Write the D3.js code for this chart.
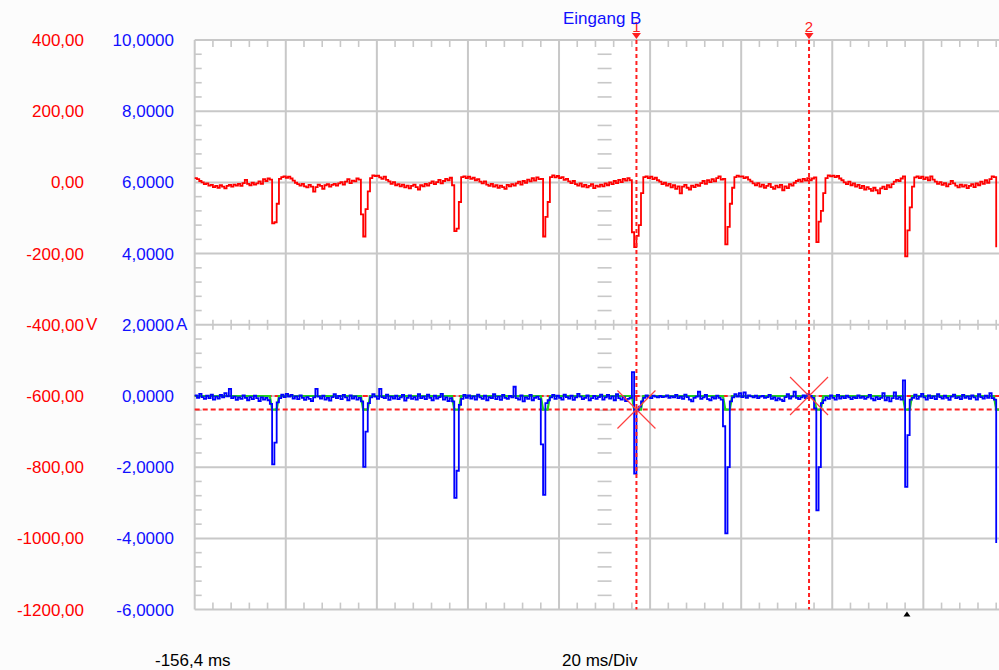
<!DOCTYPE html>
<html>
<head>
<meta charset="utf-8">
<script src="https://cdn.jsdelivr.net/npm/d3@7"></script>
<style>
html, body { margin: 0; padding: 0; background: #fff; overflow: hidden; }
svg { display: block; font-family: "Liberation Sans", Arial, sans-serif; }
</style>
</head>
<body>
<div id="chart"></div>
<script>
// scope settings
const timeStart = -156.4;   // ms at left edge
const msPerDiv = 20;
const divCount = 10;
const sampleStep = 0.5;     // ms between samples

const voltTicks = [400, 200, 0, -200, -400, -600, -800, -1000, -1200];
const ampTicks = [10, 8, 6, 4, 2, 0, -2, -4, -6];
const voltUnitRow = -400;
const ampUnitRow = 2;

const cursorTimes = [-59.4, -21.5];
const cursorNames = ["1", "2"];
const cursorAmps = [0, -0.38];
const crossTimes = [-59.4, -21.5];
const crossAmps = [-0.38, 0];
const triggerTime = 0;
const channelName = "Eingang B";
const startLabel = "-156,4 ms";
const scaleLabel = "20 ms/Div";

// channel A, volts, one sample every 0.5 ms
const voltSamples = [
  12, 9, 4, 0, -5, -3, -9, -7, -13, -10, -15, -8, -12, -17, -10, -7, -12, -6, -9, -4,
  -10, -2, 7, -4, -8, -1, -6, -3, 3, -4, 9, 4, 11, 8, -115, -112, -60, 10, 15, 17,
  13, 16, 11, 5, -1, -5, -9, -4, -11, -14, -7, -12, -26, -13, -6, -10, -18, -8, -5, -12,
  -7, -4, -9, -3, 1, -6, 2, 9, -2, 5, 3, 11, 8, -90, -152, -75, -25, 12, 20, 18,
  19, 14, 10, 16, 7, 3, -4, 1, -8, -5, -11, -6, -14, -9, -17, -10, -6, -13, -20, -8,
  -11, -4, -9, -2, 3, -5, 1, 7, -3, 4, 10, 6, 13, -8, -137, -130, -55, 15, 17, 12,
  16, 10, 13, 6, 9, 2, -3, 3, -6, -10, -4, -12, -8, -15, -9, -13, -18, -7, -11, -5,
  -9, -3, 2, -6, 4, -1, 8, 3, 12, 5, 14, 9, 10, -152, -97, -55, 15, 20, 14, 18,
  12, 15, 7, 10, 3, -2, 4, -5, -9, -3, -12, -7, -14, -10, -5, -16, -9, -12, -6, -11,
  -3, -8, 0, -5, 4, -2, 7, 1, 10, 5, 12, 6, -140, -182, -150, -120, -30, 15, 17, 12,
  16, 9, 13, 6, 2, -5, -1, -9, -4, -14, -8, -18, -11, -31, -12, -7, -15, -20, -9, -13,
  -6, -10, -2, 4, -4, 6, 1, 9, 3, 12, 17, 8, 10, -174, -125, -60, -15, 15, 19, 16,
  17, 12, 15, 8, 3, -3, -8, -2, -12, -6, -15, -10, -4, -13, -18, -9, -14, -7, -22, -11,
  -16, -5, -9, -1, 4, 8, 2, 10, 5, 12, 6, 11, 14, -168, -110, -80, -30, 12, 20, 17,
  19, 15, 18, 11, 6, 0, -5, 2, -8, -3, -12, -7, -16, -10, -20, -13, -18, -24, -15, -22,
  -31, -17, -12, -19, -8, -14, -5, 2, 7, 4, 11, 17, -208, -135, -70, -12, 14, 17, 12, 16,
  9, 14, 6, 17, 8, 2, -4, 1, -7, -2, -11, -5, 4, -3, -9, -14, -6, -12, -8, -16,
  -10, -5, -13, -3, -8, 2, -4, 6, -1, 9, 17, 15, -182
];

// channel B, amps, one sample every 0.5 ms
const ampSamples = [
  0.02, -0.05, 0.06, -0.03, -0.08, 0.01, -0.06, 0.04, -0.10, -0.02, -0.07, 0.03, -0.04, 0.08, -0.01, 0.20, -0.06, -0.02, -0.11, -0.04,
  -0.08, 0.02, -0.05, -0.12, -0.03, -0.09, 0.01, -0.06, -0.14, -0.04, -0.10, -0.05, -0.12, -0.22, -1.92, -1.31, -0.18, -0.06, 0.04, -0.03,
  0.06, -0.02, 0.03, -0.07, -0.01, -0.09, 0.02, -0.05, -0.11, -0.03, -0.08, -0.14, -0.04, 0.20, -0.02, -0.07, 0.01, -0.10, -0.05, -0.13,
  -0.03, 0.05, -0.06, 0.00, -0.09, 0.03, -0.04, -0.12, 0.02, -0.07, -0.01, -0.10, -0.05, -0.15, -1.99, -1.00, -0.20, -0.04, 0.05, -0.02,
  -0.08, 0.20, -0.03, -0.06, 0.04, -0.11, -0.02, -0.07, 0.01, -0.09, -0.04, 0.03, -0.13, -0.05, 0.02, -0.08, -0.03, -0.10, 0.05, -0.06,
  -0.02, -0.09, 0.04, -0.05, -0.12, 0.01, -0.07, -0.03, 0.06, -0.10, -0.04, -0.14, -0.06, -0.15, -2.86, -2.10, -0.25, -0.08, 0.03, -0.05,
  0.02, -0.07, -0.01, -0.10, 0.04, -0.04, -0.08, 0.01, -0.12, -0.03, -0.06, 0.05, -0.09, -0.02, -0.11, 0.03, -0.05, -0.08, 0.00, -0.04,
  0.26, -0.06, -0.10, 0.02, -0.15, -0.04, -0.08, 0.03, -0.12, -0.05, -0.02, -0.09, -1.36, -2.78, -0.20, -0.12, -0.04, 0.03, -0.08, 0.01,
  -0.05, -0.10, 0.04, -0.03, -0.07, 0.01, -0.11, -0.04, 0.06, -0.02, -0.09, -0.05, 0.02, -0.12, -0.06, 0.00, -0.08, -0.03, 0.04, -0.10,
  -0.04, 0.03, -0.07, -0.01, -0.12, 0.05, -0.06, -0.10, -0.03, -0.14, -0.08, -0.05, 0.67, -2.18, -0.40, -0.30, -0.15, -0.05, 0.02, -0.03,
  -0.06, 0.01, -0.02, -0.04, 0.00, -0.03, -0.02, 0.02, -0.05, -0.01, -0.04, 0.03, -0.06, -0.02, -0.08, 0.04, -0.03, -0.10, -0.15, -0.05,
  -0.02, 0.12, -0.08, -0.04, 0.03, -0.09, -0.12, -0.03, -0.07, 0.01, -0.05, -0.10, -0.85, -3.86, -2.00, -0.15, -0.04, 0.05, -0.02, 0.08,
  -0.03, 0.10, -0.05, 0.02, -0.01, -0.04, 0.01, -0.06, -0.02, 0.00, -0.05, -0.03, 0.03, -0.08, -0.04, -0.12, -0.06, -0.10, -0.14, -0.03,
  0.05, -0.07, -0.02, 0.12, -0.05, -0.09, -0.04, 0.02, -0.06, 0.05, 0.00, -0.05, -0.35, -3.21, -2.00, -0.20, -0.12, -0.04, -0.08, 0.02,
  -0.05, -0.10, 0.03, -0.07, -0.02, -0.06, 0.01, -0.04, -0.09, -0.03, -0.06, 0.02, -0.05, -0.02, -0.08, -0.04, 0.03, -0.07, -0.12, -0.03,
  -0.09, -0.05, 0.08, -0.12, -0.04, -0.15, -0.06, 0.10, -0.08, -0.03, -0.10, 0.44, -2.55, -1.10, -0.10, -0.05, 0.04, -0.08, -0.02, 0.06,
  -0.04, -0.10, 0.02, -0.06, -0.01, -0.09, 0.05, -0.03, -0.07, 0.01, -0.05, -0.11, -0.02, 0.04, -0.06, -0.03, -0.09, 0.03, -0.05, -0.01,
  -0.08, 0.02, -0.04, -0.10, 0.05, -0.03, -0.07, 0.01, -0.05, 0.08, -0.06, -0.10, -4.13
];

// reference trace (green), [ms, A]
const refPoints = [
  [-156.4, 0], [-139.9, 0], [-139.4, -0.38], [-138.4, -0.38], [-137.9, 0],
  [-119.9, 0], [-119.4, -0.38], [-118.4, -0.38], [-117.9, 0],
  [-99.9, 0], [-99.4, -0.38], [-98.4, -0.38], [-97.9, 0],
  [-80.4, 0], [-79.9, -0.38], [-78.9, -0.38], [-78.4, 0],
  [-60.4, 0], [-59.9, -0.38], [-58.4, -0.38], [-57.9, 0],
  [-40.4, 0], [-39.9, -0.38], [-38.9, -0.38], [-38.4, 0],
  [-20.4, 0], [-19.9, -0.38], [-18.9, -0.38], [-18.4, 0],
  [-0.9, 0], [-0.4, -0.38], [0.6, -0.38], [1.1, 0],
  [19.1, 0], [19.6, -0.38], [20.4, -0.38]
];

const width = 999, height = 670;
const plotLeft = 194.7, plotTop = 40, divW = 91.08, divH = 71.2;
const plotBottom = plotTop + 8 * divH;

const x = d3.scaleLinear()
    .domain([timeStart, timeStart + divCount * msPerDiv])
    .range([plotLeft, plotLeft + divCount * divW]);
const yV = d3.scaleLinear().domain([-1200, 400]).range([plotBottom, plotTop]);
const yA = d3.scaleLinear().domain([-6, 10]).range([plotBottom, plotTop]);

const loc = d3.formatLocale({decimal: ",", thousands: ".", grouping: [3], currency: ["", ""], minus: "-"});
const fmtV = loc.format(".2f"), fmtA = loc.format(".4f");

const svg = d3.select("#chart").append("svg")
    .attr("width", width)
    .attr("height", height);

svg.append("rect").attr("width", width).attr("height", height).attr("fill", "#fcfcfc");
svg.append("rect")
    .attr("x", plotLeft).attr("y", plotTop)
    .attr("width", width - plotLeft).attr("height", plotBottom - plotTop)
    .attr("fill", "#fff");

const gridColor = "#c8c8c8";
const grid = svg.append("g");

// major grid
const timeGrid = d3.range(divCount + 1).map(i => timeStart + i * msPerDiv);
grid.selectAll(".vg").data(timeGrid).enter().append("line")
    .attr("x1", d => x(d)).attr("x2", d => x(d))
    .attr("y1", plotTop).attr("y2", plotBottom)
    .attr("stroke", gridColor).attr("stroke-width", 2);
grid.selectAll(".hg").data(ampTicks).enter().append("line")
    .attr("x1", plotLeft).attr("x2", width)
    .attr("y1", d => yA(d)).attr("y2", d => yA(d))
    .attr("stroke", gridColor).attr("stroke-width", 2);

// minor ticks
const xMinor = d3.range(divCount * 5).filter(i => i % 5 != 0).map(i => timeStart + i * msPerDiv / 5);
const yMinor = d3.range(8 * 5).filter(i => i % 5 != 0).map(i => 10 - i * 2 / 5);
const tick = (sel, data, attrs) => sel.selectAll(null).data(data).enter().append("line")
    .attr("x1", attrs.x1).attr("x2", attrs.x2).attr("y1", attrs.y1).attr("y2", attrs.y2)
    .attr("stroke", gridColor).attr("stroke-width", 1.6);

tick(grid, xMinor, {x1: d => x(d), x2: d => x(d), y1: plotTop, y2: plotTop + 7});
tick(grid, xMinor, {x1: d => x(d), x2: d => x(d), y1: plotBottom - 7, y2: plotBottom});
tick(grid, xMinor, {x1: d => x(d), x2: d => x(d), y1: yA(2) - 5, y2: yA(2) + 5});
tick(grid, yMinor, {x1: plotLeft, x2: plotLeft + 7, y1: d => yA(d), y2: d => yA(d)});
const midT = timeStart + 4.5 * msPerDiv;
tick(grid, yMinor, {x1: x(midT) - 7, x2: x(midT) + 7, y1: d => yA(d), y2: d => yA(d)});

// axis labels
const red = "#ff0000", blue = "#1010ff";
const axV = svg.append("g").attr("transform", "translate(84,0)")
    .call(d3.axisLeft(yV).tickValues(voltTicks).tickFormat(fmtV).tickSize(0).tickPadding(0));
const axA = svg.append("g").attr("transform", "translate(174,0)")
    .call(d3.axisLeft(yA).tickValues(ampTicks).tickFormat(fmtA).tickSize(0).tickPadding(0));
[[axV, red], [axA, blue]].forEach(([g, c]) => {
    g.select(".domain").remove();
    g.selectAll("text").attr("fill", c).style("font-size", "17px").style("font-family", "'Liberation Sans', Arial, sans-serif");
});
svg.append("text").attr("x", 86).attr("y", yV(voltUnitRow)).attr("dy", "0.32em")
    .attr("fill", red).style("font-size", "17px").text("V");
svg.append("text").attr("x", 176).attr("y", yA(ampUnitRow)).attr("dy", "0.32em")
    .attr("fill", blue).style("font-size", "17px").text("A");

svg.append("text").attr("x", 155).attr("y", 666).style("font-size", "17px").attr("fill", "#000").text(startLabel);
svg.append("text").attr("x", 562).attr("y", 666).style("font-size", "17px").attr("fill", "#000").text(scaleLabel);

// horizontal cursors
const dashRed = "#ff2020";
svg.selectAll(".hc").data(cursorAmps).enter().append("line")
    .attr("x1", plotLeft).attr("x2", width)
    .attr("y1", d => yA(d)).attr("y2", d => yA(d))
    .attr("stroke", dashRed).attr("stroke-width", 2).attr("stroke-dasharray", "5,3");

// traces (scope style: hold each sample until the next)
const tOf = i => timeStart + i * sampleStep;
const lineV = d3.line().x((d, i) => x(tOf(i))).y(d => yV(d)).curve(d3.curveStepAfter);
const lineA = d3.line().x((d, i) => x(tOf(i))).y(d => yA(d)).curve(d3.curveStepAfter);
const lineRef = d3.line().x(d => x(d[0])).y(d => yA(d[1]));

svg.append("path").datum(voltSamples).attr("d", lineV)
    .attr("fill", "none").attr("stroke", red).attr("stroke-width", 1.8);
svg.append("path").datum(refPoints).attr("d", lineRef)
    .attr("fill", "none").attr("stroke", "#20d020").attr("stroke-width", 2.2);
svg.append("path").datum(ampSamples).attr("d", lineA)
    .attr("fill", "none").attr("stroke", "#0000ff").attr("stroke-width", 1.8);

// cross markers
svg.selectAll(".cx").data(d3.zip(crossTimes, crossAmps)).enter().append("path")
    .attr("d", d => {
        const cx = x(d[0]), cy = yA(d[1]), r = 19;
        return `M${cx - r},${cy - r}L${cx + r},${cy + r}M${cx - r},${cy + r}L${cx + r},${cy - r}`;
    })
    .attr("stroke", "#ff4040").attr("stroke-width", 1.2).attr("fill", "none");

// vertical cursors
svg.selectAll(".vc").data(cursorTimes).enter().append("line")
    .attr("x1", d => x(d)).attr("x2", d => x(d))
    .attr("y1", plotTop).attr("y2", plotBottom)
    .attr("stroke", dashRed).attr("stroke-width", 2).attr("stroke-dasharray", "4,3");
svg.selectAll(".vt").data(cursorTimes).enter().append("path")
    .attr("d", d => `M${x(d) - 4.5},${plotTop - 7}L${x(d) + 4.5},${plotTop - 7}L${x(d)},${plotTop - 1}Z`)
    .attr("fill", dashRed);
svg.selectAll(".vn").data(d3.zip(cursorTimes, cursorNames)).enter().append("text")
    .attr("x", d => x(d[0])).attr("y", 32).attr("text-anchor", "middle")
    .attr("fill", dashRed).style("font-size", "15px").text(d => d[1]);

svg.append("text").attr("x", 563).attr("y", 24).attr("fill", blue)
    .style("font-size", "17px").text(channelName);

// trigger marker
svg.append("path")
    .attr("d", `M${x(triggerTime) - 3.5},${plotBottom + 7}L${x(triggerTime) + 3.5},${plotBottom + 7}L${x(triggerTime)},${plotBottom + 2}Z`)
    .attr("fill", "#000");
</script>
</body>
</html>
